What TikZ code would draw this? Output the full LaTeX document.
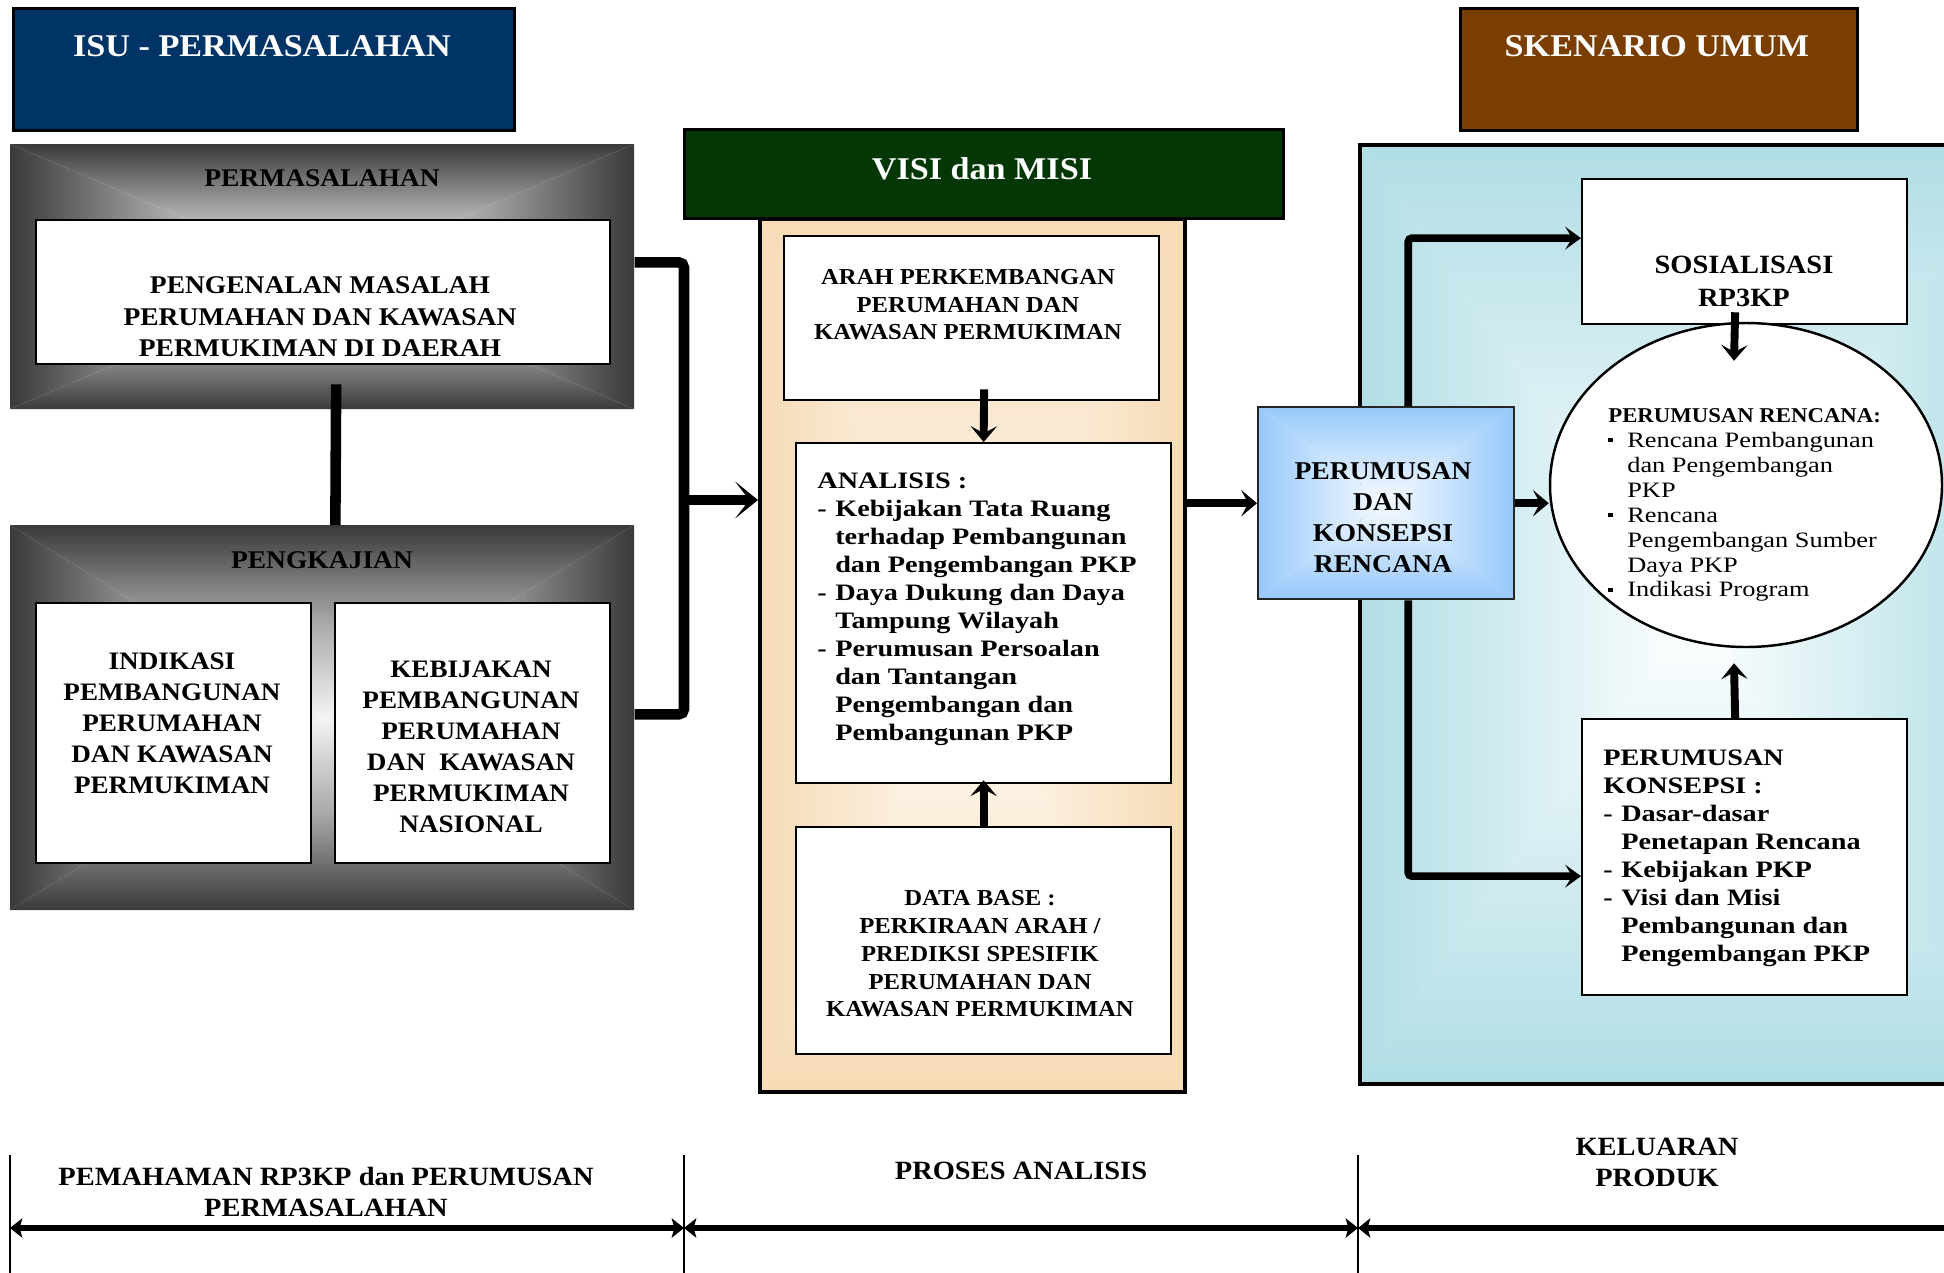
\documentclass[tikz,border=0pt]{standalone}
\usepackage{fontspec}
\setmainfont{Liberation Serif}
\newfontfamily\bkc[FakeStretch=1.08]{Liberation Serif}
\newfontfamily\bkl[FakeStretch=1.2]{Liberation Serif}
\usetikzlibrary{arrows.meta,calc,shapes.geometric}

\definecolor{isublue}{RGB}{0,51,102}
\definecolor{visigreen}{RGB}{3,56,6}
\definecolor{sknbrown}{RGB}{122,62,0}
\definecolor{pedge}{RGB}{58,58,58}
\definecolor{pmid}{RGB}{168,168,168}
\definecolor{pcenter}{RGB}{244,244,244}
\definecolor{tanedge}{RGB}{246,219,181}
\definecolor{tanmid}{RGB}{250,234,212}
\definecolor{tancenter}{RGB}{255,251,246}
\definecolor{bedge}{RGB}{176,221,228}
\definecolor{bmid}{RGB}{214,238,242}
\definecolor{bcenter}{RGB}{255,255,255}
\definecolor{kedge}{RGB}{150,200,250}
\definecolor{kmid}{RGB}{200,226,253}
\definecolor{kcenter}{RGB}{246,250,255}

% rectangle filled with a gradient running from the edges to the centre
\newcommand\pgradrect[7]{%
  \shade[top color=#5, bottom color=#7, middle color=#6]
    (#1,#2) -- (#3,#2) -- ({(#1+#3)/2},{(#2+#4)/2}) -- cycle;
  \shade[top color=#7, bottom color=#5, middle color=#6]
    (#1,#4) -- (#3,#4) -- ({(#1+#3)/2},{(#2+#4)/2}) -- cycle;
  \shade[left color=#5, right color=#7, middle color=#6]
    (#1,#2) -- (#1,#4) -- ({(#1+#3)/2},{(#2+#4)/2}) -- cycle;
  \shade[left color=#7, right color=#5, middle color=#6]
    (#3,#2) -- (#3,#4) -- ({(#1+#3)/2},{(#2+#4)/2}) -- cycle;
}
\newcommand\lsdash{\makebox[10.2pt][l]{-}}
\newcommand\lsind{\hspace*{10.2pt}}
\newcommand\elbul{\makebox[10.8pt][l]{\rule[0.22em]{2.6pt}{2.6pt}}}
\newcommand\elind{\hspace*{10.8pt}}

\tikzset{
  sz/.style 2 args={minimum width={#1*0.02cm}, minimum height={#2*0.02cm}},
  hdr/.style={draw=black, line width=1.6pt, inner sep=0pt},
  hdrtxt/.style={text=white, inner sep=0pt, font=\bkc\bfseries\fontsize{18}{21}\selectfont},
  lbl/.style={inner sep=0pt, font=\bkc\bfseries\fontsize{14.5}{17}\selectfont},
  wbox/.style={draw=black, line width=1.3pt, fill=white, inner sep=0pt},
  ctext/.style 2 args={inner sep=0pt, align=center, font=\bkc\bfseries\fontsize{#1}{#2}\selectfont},
  ltext/.style 2 args={inner sep=0pt, align=left, anchor=north west, font=\bkl\bfseries\fontsize{#1}{#2}\selectfont},
  bar/.style={line width=6pt},
  big/.style={-{Stealth[length=13pt,width=21pt,inset=8pt]}},
  med/.style={line width=4.5pt,-{Stealth[length=9pt,width=15pt,inset=4pt]}},
  blu/.style={line width=4.3pt,-{Stealth[length=9pt,width=13pt,inset=4pt]}},
  axtip/.tip={Stealth[length=7pt,width=11pt,inset=1.5pt]},
  axis/.style={line width=3.2pt},
  tick/.style={line width=1.1pt},
}

\begin{document}
\begin{tikzpicture}[x=0.02cm, y=-0.02cm]
\useasboundingbox (0,0) rectangle (1944,1272);
\clip (0,0) rectangle (1944,1272);

% ---------- column headers
\node[hdr, fill=isublue, sz={501}{122}, anchor=north west] (isu) at (12,7) {};
\node[hdrtxt] (isut) at (262,46) {ISU - PERMASALAHAN};
\node[hdr, fill=sknbrown, sz={397}{122}, anchor=north west] (skn) at (1459,7) {};
\node[hdrtxt] (sknt) at (1657,46) {SKENARIO UMUM};

% ---------- left column: grey panels
\pgradrect{10}{144}{634}{409}{pedge}{pmid}{pcenter}
\node[sz={624}{265}, anchor=north west, inner sep=0pt] (p1) at (10,144) {};
\node[lbl] (p1t) at (322,178) {PERMASALAHAN};
\pgradrect{10}{525}{634}{910}{pedge}{pmid}{pcenter}
\node[sz={624}{385}, anchor=north west, inner sep=0pt] (p2) at (10,525) {};
\node[lbl] (p2t) at (322,560) {PENGKAJIAN};

\node[wbox, sz={574}{144}, anchor=north west] (b1) at (35,219) {};
\node[ctext={14.5}{17.9}] (b1t) at (320,317)
  {PENGENALAN MASALAH\\PERUMAHAN DAN KAWASAN\\PERMUKIMAN DI DAERAH};
\node[wbox, sz={275}{260}, anchor=north west] (b2) at (35,602) {};
\node[ctext={14.3}{17.6}] (b2t) at (172,723)
  {INDIKASI\\PEMBANGUNAN\\PERUMAHAN\\DAN KAWASAN\\PERMUKIMAN};
\node[wbox, sz={275}{260}, anchor=north west] (b3) at (334,602) {};
\node[ctext={14.3}{17.6}] (b3t) at (471,747)
  {KEBIJAKAN\\PEMBANGUNAN\\PERUMAHAN\\DAN\ \ KAWASAN\\PERMUKIMAN\\NASIONAL};

% ---------- middle column
\pgradrect{758}{217}{1183}{1090}{tanedge}{tanmid}{tancenter}
\node[draw, line width=2pt, sz={425}{873}, anchor=north west, inner sep=0pt] (tan) at (758,217) {};
\node[hdr, fill=visigreen, sz={599}{89}, anchor=north west] (visi) at (683,128) {};
\node[hdrtxt] (visit) at (982,169) {VISI dan MISI};

\node[wbox, sz={375}{164}, anchor=north west] (arah) at (783,235) {};
\node[ctext={13}{15.6}] (araht) at (968,305)
  {ARAH PERKEMBANGAN\\PERUMAHAN DAN\\KAWASAN PERMUKIMAN};
\node[wbox, sz={375}{340}, anchor=north west] (anl) at (795,442) {};
\node[ltext={13.4}{15.9}] (anlt) at (817,473)
  {ANALISIS :\\
   \lsdash Kebijakan Tata Ruang\\
   \lsind terhadap Pembangunan\\
   \lsind dan Pengembangan PKP\\
   \lsdash Daya Dukung dan Daya\\
   \lsind Tampung Wilayah\\
   \lsdash Perumusan Persoalan\\
   \lsind dan Tantangan\\
   \lsind Pengembangan dan\\
   \lsind Pembangunan PKP};
\node[wbox, sz={375}{227}, anchor=north west] (dbs) at (795,826) {};
\node[ctext={13}{15.8}] (dbst) at (980,954)
  {DATA BASE :\\PERKIRAAN ARAH /\\PREDIKSI SPESIFIK\\PERUMAHAN DAN\\KAWASAN PERMUKIMAN};

% ---------- right column
\pgradrect{1358}{143}{2024}{1082}{bedge}{bmid}{bcenter}
\node[draw, line width=2.2pt, sz={666}{939}, anchor=north west, inner sep=0pt] (blu) at (1358,143) {};

\pgradrect{1257}{406}{1513}{598}{kedge}{kmid}{kcenter}
\node[draw=black!85, line width=1.4pt, sz={256}{192}, anchor=north west, inner sep=0pt] (prk) at (1257,406) {};
\node[ctext={14.6}{17.6}] (prkt) at (1383,518) {PERUMUSAN\\DAN\\KONSEPSI\\RENCANA};

\node[wbox, sz={325}{145}, anchor=north west] (sos) at (1581,178) {};
\node[ctext={15}{18.8}] (sost) at (1744,281) {SOSIALISASI\\RP3KP};

\node[draw, line width=1.4pt, fill=white, ellipse, inner sep=0pt, sz={392}{324}] (ell) at (1746,485) {};
\node[inner sep=0pt, align=left, anchor=north west, font=\bkl\fontsize{12.5}{14.2}\selectfont] (ellt) at (1608,408)
  {{\bkc\bfseries\fontsize{12}{14.2}\selectfont PERUMUSAN RENCANA:}\\
   \elbul Rencana Pembangunan\\
   \elind dan Pengembangan\\
   \elind PKP\\
   \elbul Rencana\\
   \elind Pengembangan Sumber\\
   \elind Daya PKP\\
   \elbul Indikasi Program};

\node[wbox, sz={325}{276}, anchor=north west] (kon) at (1581,718) {};
\node[ltext={13.4}{15.9}] (kont) at (1603,750)
  {PERUMUSAN\\
   KONSEPSI :\\
   \lsdash Dasar-dasar\\
   \lsind Penetapan Rencana\\
   \lsdash Kebijakan PKP\\
   \lsdash Visi dan Misi\\
   \lsind Pembangunan dan\\
   \lsind Pengembangan PKP};

% ---------- connectors
\coordinate (brk) at (684,500);
\draw[bar, rounded corners=3pt] ($(p1.east)+(0,-14.5)$) -| (brk) |- ($(p2.east)+(0,-3.5)$);
\draw[bar] ($(b1.south)+(13,19)$) -- ($(p2.north)+(13,0)$);
\draw[bar, big] (brk) -- (brk -| tan.west);

\draw[med] ($(arah.south)+(12.5,-12)$) -- (anl.north);
\draw[med] (dbs.north) -- ($(anl.south)+(0,-4)$);
\draw[med] (tan.east |- prk.west) -- (prk.west);
\draw[med] (prk.east) -- (prk.east -| ell.west);

\draw[blu, rounded corners=2pt] ($(prk.north)+(22,0)$) |- ($(sos.west)+(0,-13.5)$);
\draw[blu, rounded corners=2pt] ($(prk.south)+(22,0)$) |- ($(kon.west)+(0,19)$);
\draw[med] ($(sos.south)+(-9.5,-13)$) -- ($(ell.north)+(-12,39)$);
\draw[med] ($(kon.north)+(-9.5,0)$) -- ($(ell.south)+(-12,15)$);

% ---------- phase axis
\draw[tick] (10,1155) -- (10,1290);
\draw[tick] (684,1155) -- (684,1290);
\draw[tick] (1358,1155) -- (1358,1290);
\coordinate (ax0) at (10,1228);
\coordinate (ax1) at (684,1228);
\coordinate (ax2) at (1358,1228);
\coordinate (ax3) at (2000,1228);
\draw[axis, axtip-axtip] (ax0) -- (ax1);
\draw[axis, axtip-axtip] (ax1) -- (ax2);
\draw[axis, axtip-] (ax2) -- (ax3);

\node[ctext={15}{17.6}] (ph1) at (326,1192) {PEMAHAMAN RP3KP dan PERUMUSAN\\PERMASALAHAN};
\node[ctext={15}{17.6}] (ph2) at (1021,1171) {PROSES ANALISIS};
\node[ctext={15}{17.6}] (ph3) at (1657,1162) {KELUARAN\\PRODUK};
\end{tikzpicture}
\end{document}
